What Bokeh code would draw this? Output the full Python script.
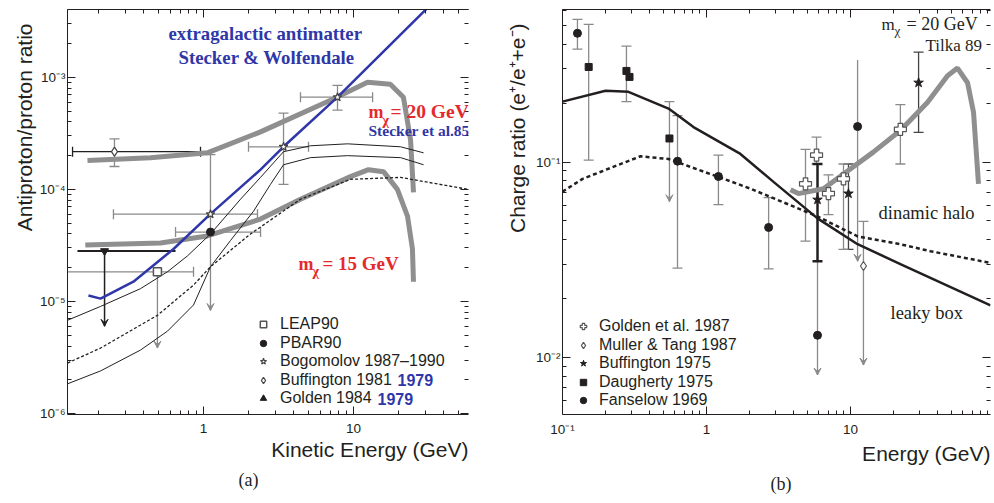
import math
from bokeh.plotting import figure
from bokeh.models import (LogAxis, FixedTicker, Whisker, TeeHead, VeeHead,
                          ColumnDataSource, Label, Range1d, Legend, LegendItem,
                          CustomJSTickFormatter, Title)
from bokeh.layouts import row
from bokeh.embed import file_html
from bokeh.resources import INLINE
from bokeh.core.properties import value

# ======================= Panel (a) data =======================
a_xticks = [1, 10]
a_xtick_labels = ["1", "10"]
a_yticks = [1e-6, 1e-5, 1e-4, 1e-3]
a_ytick_labels = ["10⁻⁶", "10⁻⁵", "10⁻⁴", "10⁻³"]

# extragalactic antimatter (Stecker & Wolfendale)
blue_x = [0.171, 0.206, 0.341, 0.631, 1.11, 2.40, 3.41, 7.82, 31.1]
blue_y = [1.13e-5, 1.06e-5, 1.50e-5, 2.94e-5, 6.01e-5, 1.50e-4, 2.40e-4, 6.65e-4, 4.16e-3]
# m_chi = 20 GeV
g20_x = [0.1685, 0.443, 1.06, 2.40, 7.03, 12.4, 17.6, 21.5, 24.0, 25.1]
g20_y = [1.81e-4, 1.92e-4, 2.12e-4, 3.26e-4, 6.25e-4, 9.03e-4, 8.67e-4, 6.65e-4, 2.77e-4, 9.4e-5]
# m_chi = 15 GeV
g15_x = [0.163, 0.517, 1.06, 2.40, 4.43, 9.55, 12.59, 15.85, 19.6, 22.9, 24.7, 25.1]
g15_y = [3.19e-5, 3.33e-5, 3.84e-5, 5.43e-5, 8.17e-5, 1.30e-4, 1.50e-4, 1.44e-4, 1.0e-4, 5.77e-5, 2.94e-5, 1.50e-5]
# thin background curves
thinA_x = [0.124, 0.206, 0.380, 0.575, 0.782, 1.113, 1.765, 2.399, 3.415, 5.17, 9.12, 20.6, 29.3]
thinA_y = [6.79e-6, 9.03e-6, 1.30e-5, 1.84e-5, 2.55e-5, 4.00e-5, 8.17e-5, 1.28e-4, 2.17e-4, 2.45e-4, 2.55e-4, 2.40e-4, 2.12e-4]
thinC_x = [0.124, 0.206, 0.380, 0.575, 0.858, 1.113, 1.514, 2.154, 2.797, 3.415, 5.17, 9.12, 20.6, 29.3]
thinC_y = [1.84e-6, 2.40e-6, 3.68e-6, 5.43e-6, 9.3e-6, 2.04e-5, 3.5e-5, 6.38e-5, 1.11e-4, 1.66e-4, 1.92e-4, 2.0e-4, 1.92e-4, 1.66e-4]
dashB_x = [0.124, 0.206, 0.493, 0.858, 1.113, 2.056, 4.43, 9.55, 20.6, 58.4]
dashB_y = [2.82e-6, 3.84e-6, 7.52e-6, 1.40e-5, 2.04e-5, 4.0e-5, 8.17e-5, 1.23e-4, 1.28e-4, 1.0e-4]

# LEAP90
leap_x = [0.493]; leap_y = [1.84e-5]
leap_xlo = [0.12]; leap_xhi = [0.858]; leap_ylim = [3.84e-6]
# PBAR90
pbar_x = [1.113]; pbar_y = [4.16e-5]
pbar_xlo = [0.651]; pbar_xhi = [2.40]
# Bogomolov 1987-1990
bogo_x = [1.113, 3.415, 7.82]; bogo_y = [6.01e-5, 2.40e-4, 6.65e-4]
bogo_xlo = [0.251, 1.995, 4.43]; bogo_xhi = [2.29, 5.01, 13.4]
bogo_ylo = [8.3e-6, 1.11e-4, 5.10e-4]; bogo_yhi = [2.04e-4, 4.8e-4, 8.49e-4]
# Buffington 1981
buf81_x = [0.255]; buf81_y = [2.17e-4]
buf81_xlo = [0.134]; buf81_xhi = [0.955]; buf81_ylo = [1.60e-4]; buf81_yhi = [2.82e-4]
# Golden 1984
gol84_x = [0.219]; gol84_y = [2.82e-5]
gol84_xlo = [0.1445]; gol84_xhi = [0.651]; gol84_ylim = [6.0e-6]

# ======================= Panel (b) data =======================
b_xticks = [0.1, 1, 10]
b_xtick_labels = ["10⁻¹", "1", "10"]
b_yticks = [0.01, 0.1]
b_ytick_labels = ["10⁻²", "10⁻¹"]

leaky_x = [0.1, 0.199, 0.287, 0.545, 0.812, 1.72, 2.92, 5.90, 11.2, 22.2, 93.8]
leaky_y = [0.204, 0.232, 0.229, 0.188, 0.151, 0.110, 0.0791, 0.0514, 0.0379, 0.030, 0.0184]
halo_x = [0.1, 0.138, 0.348, 0.545, 1.21, 2.02, 5.90, 11.2, 22.2, 35.9, 93.8]
halo_y = [0.0705, 0.082, 0.107, 0.1036, 0.0839, 0.073, 0.0526, 0.0416, 0.0379, 0.0349, 0.0304]
gb_x = [3.83, 4.35, 6.49, 8.94, 14.4, 22.2, 34.2, 47.2, 55.3, 65.0, 71.5, 77.4]
gb_y = [0.0721, 0.0689, 0.073, 0.0869, 0.1124, 0.145, 0.202, 0.277, 0.303, 0.255, 0.180, 0.0773]

# Fanselow 1969
fans_x = [0.127, 0.629, 1.21, 2.70, 11.2, 5.90]
fans_y = [0.457, 0.101, 0.0843, 0.0462, 0.152, 0.01294]
fans_lo = [0.379, 0.0286, 0.0605, 0.0283, 0.031, 0.0081]
fans_hi = [0.538, 0.173, 0.1086, 0.0657, 0.333, 0.031]
fans_limit = [False, False, False, False, True, True]
# Daugherty 1975
daug_x = [0.152, 0.278, 0.292, 0.553]
daug_y = [0.307, 0.293, 0.273, 0.132]
daug_ex = [0.152, 0.278, 0.553]
daug_lo = [0.1023, 0.204, 0.0626]
daug_hi = [0.508, 0.393, 0.204]
daug_limit = [False, False, True]
# Buffington 1975
buf75_x = [5.90, 9.68, 29.7]
buf75_y = [0.0641, 0.0689, 0.255]
buf75_ex = [9.68, 29.7]; buf75_lo = [0.0357, 0.142]; buf75_hi = [0.0977, 0.366]
buf75_black_x = [5.90]; buf75_black_lo = [0.031]; buf75_black_hi = [0.0977]
# Golden et al. 1987
gol87_x = [4.87, 5.81, 7.03, 8.94, 22.2]
gol87_y = [0.0773, 0.1086, 0.0689, 0.082, 0.147]
gol87_lo = [0.0393, 0.0977, 0.0538, 0.0357, 0.0977]
gol87_hi = [0.116, 0.134, 0.0859, 0.0977, 0.197]
# Muller & Tang 1987
mul_x = [12.3]; mul_y = [0.0293]; mul_hi = [0.0496]; mul_lo = [0.0091]

# ======================= styling helpers =======================
INK = "#231f20"
GRAYBAR = "#8a8a8a"
GRAYCURVE = "#8f8f8f"
BLUE = "#2f37a8"
RED = "#e42a2c"
SANS = "Liberation Sans"
SERIF = "Liberation Serif"

FMT_CODE = """
for (let i = 0; i < tv.length; i++) {
    if (Math.abs(Math.log10(tv[i]) - Math.log10(tick)) < 1e-6) { return tl[i]; }
}
return "";
"""


def fmt(ticks, labels):
    return CustomJSTickFormatter(args=dict(tv=list(ticks), tl=list(labels)), code=FMT_CODE)


def head(kind, color, width):
    if kind == "tee":
        return TeeHead(size=10, line_color=color, line_width=width)
    if kind == "arrow":
        return VeeHead(size=7, line_color=color, fill_color=color, line_width=1)
    return None


def errbar(p, base, lo, hi, color, width=1.0, dim="height", low="tee", up="tee"):
    src = ColumnDataSource(dict(base=base, lower=lo, upper=hi))
    p.add_layout(Whisker(source=src, base="base", lower="lower", upper="upper",
                         dimension=dim, line_color=color, line_width=width,
                         lower_head=head(low, color, width), upper_head=head(up, color, width)))


def setup_axes(p, xt, xl, xminor, yt, yl, yminor, xstand, ystand):
    bottom = p.below[0]
    left = p.left[0]
    top = LogAxis()
    right = LogAxis()
    p.add_layout(top, "above")
    p.add_layout(right, "right")
    specs = [(bottom, xt, xl, xminor, True, xstand, True),
             (top, xt, xl, xminor, False, 0, True),
             (left, yt, yl, yminor, True, ystand, True),
             (right, yt, yl, yminor, False, 0, False)]
    for ax, t, l, m, show, stand, line in specs:
        ax.ticker = FixedTicker(ticks=t, minor_ticks=m)
        ax.major_tick_in = 8
        ax.major_tick_out = 0
        ax.minor_tick_in = 4
        ax.minor_tick_out = 0
        ax.major_tick_line_color = INK
        ax.minor_tick_line_color = INK
        ax.axis_line_color = INK if line else None
        if show:
            ax.formatter = fmt(t, l)
            ax.major_label_text_font = SANS
            ax.major_label_text_font_size = "13.5px"
            ax.major_label_text_color = INK
            ax.major_label_standoff = stand
        else:
            ax.formatter = fmt([], [])
            ax.major_label_text_font_size = "1px"
            ax.major_label_standoff = 0


def side_title(p, text, side, align, offset, standoff, size, font=SANS):
    p.add_layout(Title(text=text, align=align, offset=offset, standoff=standoff,
                       text_font=font, text_font_size=f"{size}px", text_font_style="normal",
                       text_color=INK), side)


def txt(p, fl, fb, text, X, Y, size, color=INK, font=SANS, style="normal",
        align="left", angle=0.0):
    p.add_layout(Label(x=X - fl, y=fb - Y, x_units="screen", y_units="screen",
                       text=text, text_font=font, text_font_size=f"{size}px",
                       text_color=color, text_font_style=style, text_align=align,
                       text_baseline="middle", angle=angle))


def legend_rows(p, entries, fl, fb, marker_x, centers, standoff):
    for (label, r), yc in zip(entries, centers):
        p.add_layout(Legend(items=[LegendItem(label=value(label), renderers=[r])],
                            location=(marker_x - 8 - fl, fb - yc - 9), orientation="vertical",
                            background_fill_alpha=0, border_line_color=None,
                            label_text_font=SANS, label_text_font_size="16px",
                            label_text_color=INK, glyph_width=16, glyph_height=18,
                            label_height=18, spacing=0, padding=0, margin=0,
                            label_standoff=standoff))


def base_fig(w, xr, yr, bl, br, bt):
    p = figure(width=w, height=500, x_axis_type="log", y_axis_type="log",
               x_range=Range1d(*xr), y_range=Range1d(*yr),
               output_backend="svg", toolbar_location=None,
               min_border_left=bl, min_border_right=br, min_border_top=bt,
               min_border_bottom=85, outline_line_color=None,
               background_fill_color="white", border_fill_color="white")
    p.grid.visible = False
    return p


# ======================= Panel (a) =======================
pa = base_fig(490, (0.124, 58.4), (9.8e-7, 4.03e-3), 67, 22, 9)
a_xminor = [0.2, 0.3, 0.4, 0.5, 0.6, 0.7, 0.8, 0.9, 2, 3, 4, 5, 6, 7, 8, 9, 20, 30, 40, 50]
a_yminor = [k * 10.0 ** e for e in (-6, -5, -4, -3) for k in range(2, 10)]
setup_axes(pa, a_xticks, a_xtick_labels, a_xminor, a_yticks, a_ytick_labels, a_yminor, 9, 2)
side_title(pa, "Antiproton/proton ratio", "left", "right", 14, 2, 21)
side_title(pa, "Kinetic Energy (GeV)", "below", "right", 0, 0, 21)
side_title(pa, "(a)", "below", "left", 171, 14, 18, SERIF)

pa.line(g20_x, g20_y, line_color=GRAYCURVE, line_width=5)
pa.line(g15_x, g15_y, line_color=GRAYCURVE, line_width=5)
pa.line(thinA_x, thinA_y, line_color=INK, line_width=1)
pa.line(thinC_x, thinC_y, line_color=INK, line_width=1)
pa.line(dashB_x, dashB_y, line_color=INK, line_width=1.3, line_dash="3 2")
pa.line(blue_x, blue_y, line_color=BLUE, line_width=2.5)

# error bars (a)
errbar(pa, buf81_y, buf81_xlo, buf81_xhi, INK, 1.3, "width", "tee", "tee")
errbar(pa, buf81_x, buf81_ylo, buf81_yhi, GRAYBAR, 1.3)
errbar(pa, leap_y, leap_xlo, leap_xhi, GRAYBAR, 1.3, "width", "tee", "tee")
errbar(pa, leap_x, leap_ylim, leap_y, GRAYBAR, 1.3, "height", "arrow", None)
errbar(pa, pbar_y, pbar_xlo, pbar_xhi, GRAYBAR, 1.3, "width", "tee", "tee")
errbar(pa, bogo_y, bogo_xlo, bogo_xhi, GRAYBAR, 1.3, "width", "tee", "tee")
errbar(pa, bogo_x[:1], bogo_ylo[:1], bogo_yhi[:1], GRAYBAR, 1.3, "height", "arrow", "tee")
errbar(pa, bogo_x[1:], bogo_ylo[1:], bogo_yhi[1:], GRAYBAR, 1.3, "height", "tee", "tee")
errbar(pa, gol84_y, gol84_xlo, gol84_xhi, INK, 2, "width", None, None)
errbar(pa, gol84_x, gol84_ylim, gol84_y, INK, 1.5, "height", "arrow", None)

r_leap = pa.scatter(leap_x, leap_y, marker="square", size=8, fill_color="white", line_color="#555555", line_width=1.5)
r_pbar = pa.scatter(pbar_x, pbar_y, marker="circle", size=8, fill_color=INK, line_color=INK)
r_bogo = pa.scatter(bogo_x, bogo_y, marker="star", size=9, fill_color="white", line_color="#444444", line_width=1.2)
r_buf81 = pa.scatter(buf81_x, buf81_y, marker="diamond", size=9, fill_color="white", line_color="#444444", line_width=1.2)
r_gol84 = pa.scatter(gol84_x, gol84_y, marker="inverted_triangle", size=8, fill_color=INK, line_color=INK)
r_gol84_leg = pa.scatter(gol84_x, gol84_y, marker="triangle", size=8, fill_color=INK, line_color=INK, visible=False)

FLa, FBa = 67, 415
legend_rows(pa, [("LEAP90", r_leap), ("PBAR90", r_pbar), ("Bogomolov 1987–1990", r_bogo),
                 ("Buffington 1981", r_buf81), ("Golden 1984", r_gol84_leg)],
            FLa, FBa, 263, [325, 343.5, 362, 380.5, 399], 9)

txt(pa, FLa, FBa, "extragalactic antimatter", 168, 34, 18.8, color=BLUE, font=SERIF, style="bold")
txt(pa, FLa, FBa, "Stecker & Wolfendale", 178, 58, 18.8, color=BLUE, font=SERIF, style="bold")
txt(pa, FLa, FBa, "m", 368, 112, 18, color=RED, font=SERIF, style="bold")
txt(pa, FLa, FBa, "χ", 382, 121, 14, color=RED, font=SERIF, style="bold")
txt(pa, FLa, FBa, "= 20 GeV", 390, 112, 19.5, color=RED, font=SERIF, style="bold")
txt(pa, FLa, FBa, "Stecker et al.85", 368, 131, 15.5, color=BLUE, font=SERIF, style="bold")
txt(pa, FLa, FBa, "m", 298, 264, 18, color=RED, font=SERIF, style="bold")
txt(pa, FLa, FBa, "χ", 312, 272, 14, color=RED, font=SERIF, style="bold")
txt(pa, FLa, FBa, "= 15 GeV", 322, 264, 19, color=RED, font=SERIF, style="bold")
txt(pa, FLa, FBa, "1979", 397, 380.5, 16, color=BLUE, style="bold")
txt(pa, FLa, FBa, "1979", 377, 399, 16, color=BLUE, style="bold")

# ======================= Panel (b) =======================
pb = base_fig(502, (0.1, 93.8), (5.08e-3, 0.605), 72, 2, 6)
b_xminor = [0.2, 0.3, 0.4, 0.5, 0.6, 0.7, 0.8, 0.9, 2, 3, 4, 5, 6, 7, 8, 9, 20, 30, 40, 50, 60, 70, 80, 90]
b_yminor = [0.006, 0.007, 0.008, 0.009, 0.02, 0.03, 0.04, 0.05, 0.06, 0.07, 0.08, 0.09, 0.2, 0.3, 0.4, 0.5, 0.6]
setup_axes(pb, b_xticks, b_xtick_labels, b_xminor, b_yticks, b_ytick_labels, b_yminor, 7, 2)
side_title(pb, "Charge ratio (e⁺/e⁺+e⁻)", "left", "right", 14, 7, 21)
side_title(pb, "Energy (GeV)", "below", "right", 0, 0, 21)
side_title(pb, "(b)", "below", "left", 208, 14, 18, SERIF)

pb.line(gb_x, gb_y, line_color=GRAYCURVE, line_width=5)
pb.line(leaky_x, leaky_y, line_color=INK, line_width=2.5)
pb.line(halo_x, halo_y, line_color=INK, line_width=2.5, line_dash="4 3")

fx_n = [x for x, f in zip(fans_x, fans_limit) if not f]
fl_n = [x for x, f in zip(fans_lo, fans_limit) if not f]
fh_n = [x for x, f in zip(fans_hi, fans_limit) if not f]
fx_l = [x for x, f in zip(fans_x, fans_limit) if f]
fl_l = [x for x, f in zip(fans_lo, fans_limit) if f]
fh_l = [x for x, f in zip(fans_hi, fans_limit) if f]
errbar(pb, fx_n, fl_n, fh_n, GRAYBAR, 1.3)
errbar(pb, fx_l, fl_l, fh_l, GRAYBAR, 1.3, "height", "arrow", None)
dx_n = [x for x, f in zip(daug_ex, daug_limit) if not f]
dl_n = [x for x, f in zip(daug_lo, daug_limit) if not f]
dh_n = [x for x, f in zip(daug_hi, daug_limit) if not f]
dx_l = [x for x, f in zip(daug_ex, daug_limit) if f]
dl_l = [x for x, f in zip(daug_lo, daug_limit) if f]
dh_l = [x for x, f in zip(daug_hi, daug_limit) if f]
errbar(pb, dx_n, dl_n, dh_n, GRAYBAR, 1.3)
errbar(pb, dx_l, dl_l, dh_l, GRAYBAR, 1.3, "height", "arrow", "tee")
errbar(pb, buf75_ex, buf75_lo, buf75_hi, "#444444", 1.3)
errbar(pb, gol87_x, gol87_lo, gol87_hi, GRAYBAR, 1.3)
errbar(pb, mul_x, mul_lo, mul_hi, GRAYBAR, 1.3, "height", "arrow", "tee")
errbar(pb, buf75_black_x, buf75_black_lo, buf75_black_hi, INK, 2.5)

r_gol87 = pb.scatter(gol87_x, gol87_y, marker="plus", size=12, fill_color="white", line_color="#555555", line_width=1.2)
r_mul = pb.scatter(mul_x, mul_y, marker="diamond", size=9, fill_color="white", line_color="#555555", line_width=1.2)
r_buf75 = pb.scatter(buf75_x, buf75_y, marker="star", size=10, fill_color=INK, line_color=INK)
r_daug = pb.scatter(daug_x, daug_y, marker="square", size=7, fill_color=INK, line_color=INK)
r_fans = pb.scatter(fans_x, fans_y, marker="circle", size=8, fill_color=INK, line_color=INK)

FLb, FBb = 562, 415
legend_rows(pb, [("Golden et al. 1987", r_gol87), ("Muller & Tang 1987", r_mul),
                 ("Buffington 1975", r_buf75), ("Daugherty 1975", r_daug),
                 ("Fanselow 1969", r_fans)],
            FLb, FBb, 583, [327, 345.5, 364, 382.5, 401], 8)

txt(pb, FLb, FBb, "m", 881, 25, 17, font=SERIF)
txt(pb, FLb, FBb, "χ", 894, 31, 13, font=SERIF)
txt(pb, FLb, FBb, "= 20 GeV", 906, 24, 18, font=SERIF)
txt(pb, FLb, FBb, "Tilka 89", 925, 46, 17, font=SERIF)
txt(pb, FLb, FBb, "dinamic halo", 878, 213, 18.5, font=SERIF)
txt(pb, FLb, FBb, "leaky box", 890, 313, 18.5, font=SERIF)

layout = row(pa, pb)
open("out.html", "w").write(file_html(layout, INLINE))
